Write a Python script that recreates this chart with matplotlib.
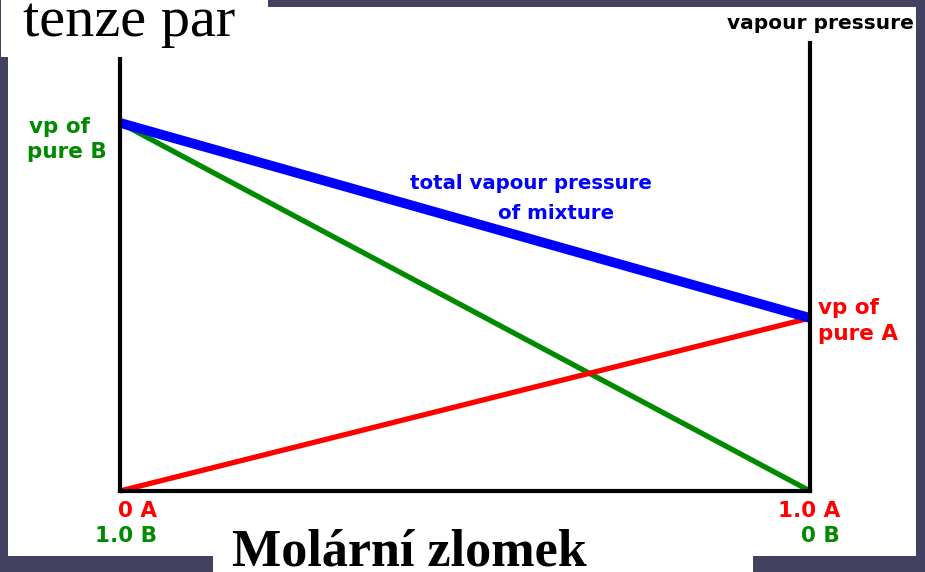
import matplotlib.pyplot as plt
from matplotlib.patches import Rectangle

# mole fraction of A at the two ends of the axis
x_a = [0.0, 1.0]

# vapour pressures (arbitrary units)
p_pure_b = 100
p_pure_a = 47
p_a = [0, p_pure_a]
p_b = [p_pure_b, 0]
p_total = [p_pure_b, p_pure_a]

end_labels_a = ["0 A", "1.0 A"]
end_labels_b = ["1.0 B", "0 B"]

W, H = 925, 572
BG = "#42415f"
GREEN = "#008a00"

fig = plt.figure(figsize=(W / 100, H / 100), dpi=100)
fig.patch.set_facecolor(BG)


def fx(x):
    return x / W


def fy(y):
    return 1 - y / H


def white_box(x0, y0, x1, y1, z):
    fig.patches.append(Rectangle((fx(x0), fy(y1)), (x1 - x0) / W, (y1 - y0) / H,
                                 transform=fig.transFigure, facecolor="white",
                                 edgecolor="none", zorder=z))


# slide background with the pasted picture and the two text boxes
white_box(8, 7, 916, 556, -1)
white_box(213, 540, 753, 572, -1)
white_box(1, 0, 268, 57, 2)

ax = fig.add_axes([fx(120), fy(491), (810 - 120) / W, (491 - 43) / H])
ax.patch.set_visible(False)
ax.set_xlim(0, 1)
ax.set_ylim(0, 121.7)
ax.set_xticks([])
ax.set_yticks([])
ax.spines["top"].set_visible(False)
for s in ["left", "right", "bottom"]:
    ax.spines[s].set_linewidth(3)

ax.plot(x_a, p_b, color=GREEN, lw=3.8, clip_on=False, solid_capstyle="butt")
ax.plot(x_a, p_a, color="#ff0000", lw=3.8, clip_on=False, solid_capstyle="butt")
ax.plot(x_a, p_total, color="#0000ff", lw=7, clip_on=False, solid_capstyle="butt")

bold = dict(fontweight="bold", family="DejaVu Sans")

fig.text(fx(29), fy(133), "vp of", color=GREEN, fontsize=15.5, va="baseline", **bold)
fig.text(fx(27), fy(158), "pure B", color=GREEN, fontsize=15.5, va="baseline", **bold)
fig.text(fx(818), fy(314), "vp of", color="#ff0000", fontsize=15.5, va="baseline", **bold)
fig.text(fx(818), fy(340), "pure A", color="#ff0000", fontsize=15.5, va="baseline", **bold)

fig.text(fx(531), fy(189), "total vapour pressure", color="#0000ff", fontsize=14.2,
         ha="center", va="baseline", **bold)
fig.text(fx(556), fy(219), "of mixture", color="#0000ff", fontsize=14.2,
         ha="center", va="baseline", **bold)

fig.text(fx(914), fy(29), "vapour pressure", color="black", fontsize=14.5,
         ha="right", va="baseline", **bold)

for xr, la, lb in zip([157, 840], end_labels_a, end_labels_b):
    fig.text(fx(xr), fy(517), la, color="#ff0000", fontsize=15.5, ha="right", va="baseline", **bold)
    fig.text(fx(xr), fy(542), lb, color=GREEN, fontsize=15.5, ha="right", va="baseline", **bold)

fig.text(fx(23), fy(36), "tenze par", color="black", fontsize=42,
         family="Liberation Serif", va="baseline", zorder=3)
fig.text(fx(232), fy(566), "Molární zlomek", color="black", fontsize=37.5,
         family="Liberation Serif", fontweight="bold", va="baseline")

fig.savefig("out.png", dpi=100, facecolor=BG)
